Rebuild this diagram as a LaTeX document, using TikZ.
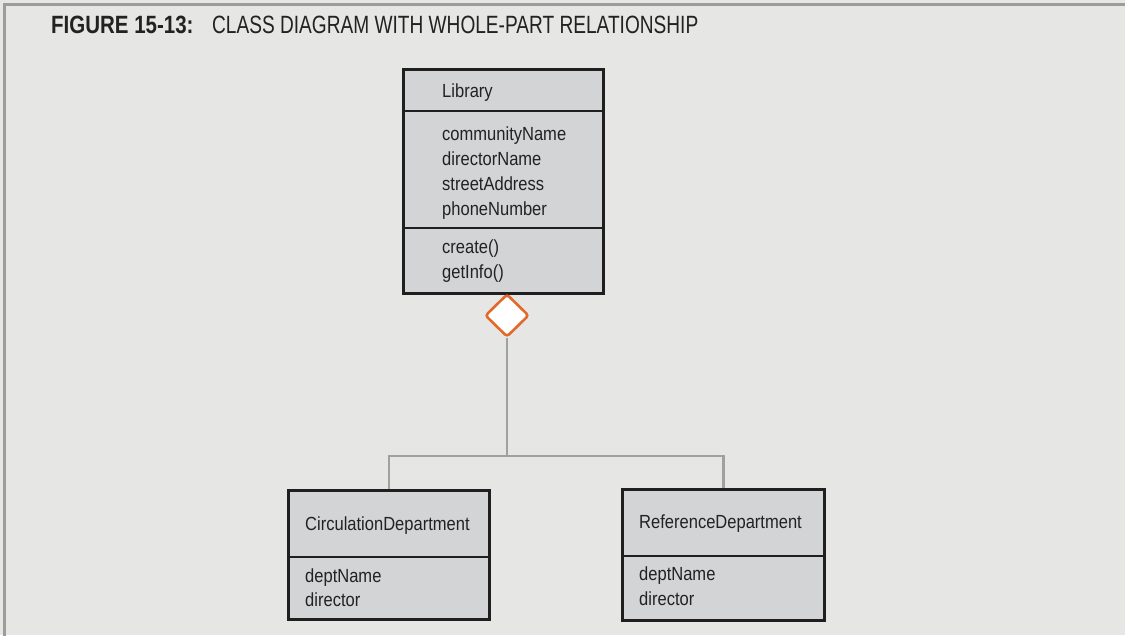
\documentclass[tikz,border=0pt]{standalone}
\usepackage{fontspec}
\setmainfont{Liberation Sans}[FakeStretch=0.87]
\newfontfamily\titlereg{Liberation Sans}[FakeStretch=0.764]
\newfontfamily\titlebf{Liberation Sans}[FakeStretch=0.82]
\usetikzlibrary{shapes.geometric}
\definecolor{bgc}{HTML}{E6E6E4}
\definecolor{boxfill}{HTML}{D3D4D6}
\definecolor{framec}{HTML}{9C9C98}
\definecolor{connc}{HTML}{A0A09C}
\definecolor{aggc}{HTML}{E2692A}
\definecolor{txtc}{HTML}{222222}
\tikzset{
  classbox/.style={draw=black!88, fill=boxfill, line width=2.8pt, inner sep=0pt, anchor=north west},
  divline/.style={draw=black!88, line width=2.8pt},
  lbl/.style={font=\fontsize{19}{19}\selectfont, text=txtc, inner sep=0pt, anchor=base west},
  conn/.style={draw=connc, line width=2.3pt},
  aggdiamond/.style={diamond, draw=aggc, fill=white, line width=2.6pt, rounded corners=3pt,
    minimum width=44pt, minimum height=43pt, inner sep=0pt},
}
\begin{document}
\begin{tikzpicture}[x=1pt,y=-1pt]
\fill[bgc] (0,0) rectangle (1125,635);
\useasboundingbox (0,0) rectangle (1125,635);
\draw[framec, line width=2.6pt] (4.6,640) -- (4.6,4.6) -- (1130,4.6);

% title
\node[anchor=base west, inner sep=0pt, text=txtc, font=\titlebf\bfseries\fontsize{25}{25}\selectfont] (tnum) at (51,33) {FIGURE 15-13:};
\node[anchor=base west, inner sep=0pt, text=txtc, font=\titlereg\fontsize{25}{25}\selectfont] (ttxt) at (212,33) {CLASS DIAGRAM WITH WHOLE-PART RELATIONSHIP};

% Library class
\node[classbox, minimum width=200pt, minimum height=224pt] (lib) at (402,68) {};
\coordinate (ld1) at (0,111);
\coordinate (ld2) at (0,228);
\draw[divline] (lib.west |- ld1) -- (lib.east |- ld1);
\draw[divline] (lib.west |- ld2) -- (lib.east |- ld2);
\node[lbl] (libname) at (442,97) {Library};
\node[lbl] (liba1) at (442,140) {communityName};
\node[lbl] (liba2) at (442,165) {directorName};
\node[lbl] (liba3) at (442,190) {streetAddress};
\node[lbl] (liba4) at (442,215) {phoneNumber};
\node[lbl] (libm1) at (442,253) {create()};
\node[lbl] (libm2) at (442,278) {getInfo()};

% CirculationDepartment class
\node[classbox, minimum width=201pt, minimum height=129pt] (circ) at (287,489) {};
\coordinate (cd1) at (0,557);
\draw[divline] (circ.west |- cd1) -- (circ.east |- cd1);
\node[lbl] (circname) at (305,530) {CirculationDepartment};
\node[lbl] (circa1) at (305,582) {deptName};
\node[lbl] (circa2) at (305,606) {director};

% ReferenceDepartment class
\node[classbox, minimum width=202pt, minimum height=131pt] (ref) at (621,488) {};
\coordinate (rd1) at (0,556);
\draw[divline] (ref.west |- rd1) -- (ref.east |- rd1);
\node[lbl] (refname) at (639,528) {ReferenceDepartment};
\node[lbl] (refa1) at (639,580) {deptName};
\node[lbl] (refa2) at (639,605) {director};

% aggregation
\node[aggdiamond] (agg) at (507,315.5) {};
\coordinate (junc) at (507,456);
\draw[conn] (agg.south) -- (junc);
\draw[conn] (circ.north) |- (junc) -| (ref.north);
\end{tikzpicture}
\end{document}
